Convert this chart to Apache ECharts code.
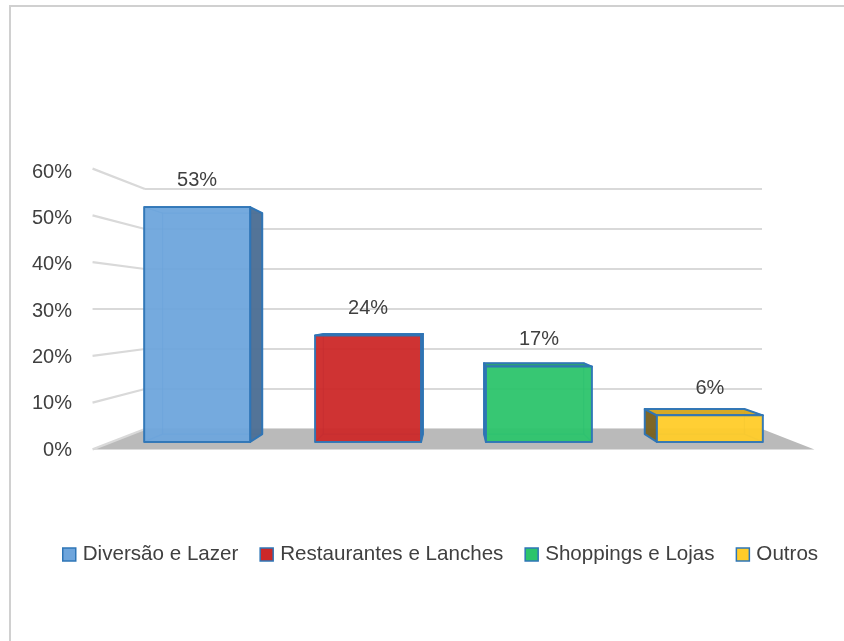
<!DOCTYPE html>
<html><head><meta charset="utf-8">
<script src="https://cdn.jsdelivr.net/npm/echarts@6/dist/echarts.min.js"></script>
<style>html,body{margin:0;padding:0;background:#fff}#c{width:844px;height:641px}</style>
</head><body><div id="c"></div>
<script>
// ---- data ----
const categories = ['Diversão e Lazer', 'Restaurantes e Lanches', 'Shoppings e Lojas', 'Outros'];
const values = [0.53, 0.24, 0.17, 0.06];
const yTicks = [0, 0.1, 0.2, 0.3, 0.4, 0.5, 0.6];

// ---- styles ----
const colors = ['#6ea5dc', '#cc2828', '#2cc46c', '#ffcc29'];
const sideColors = ['#4d7095', '#8a1c1c', '#1f8447', '#7a6220'];
const topColors = ['#5f93c6', '#b52323', '#25ab5c', '#d6a71e'];
const EDGE = '#2e75b6';
const TEXT = '#404040';
const FONT = 'Liberation Sans, Arial, sans-serif';

// perspective of the 3D look (scale factors relative to the back wall)
const S_FRONT_PLANE = 1.17, S_BAR_FRONT = 1.108, S_BAR_BACK = 1.042;
const EYE_VALUE = 0.3, BAR_RATIO = 0.62;

function proj(V, p, s) { return [V[0] + s * (p[0] - V[0]), V[1] + s * (p[1] - V[1])]; }
function eye(params, api) {
  const cs = params.coordSys;
  return [cs.x + cs.width / 2, api.coord([0, EYE_VALUE])[1]];
}
function pct(v) { return Math.round(v * 100) + '%'; }

function renderFloor(params, api) {
  const cs = params.coordSys, V = eye(params, api);
  const yB = api.coord([0, 0])[1];
  const bl = [cs.x, yB], br = [cs.x + cs.width, yB];
  return {
    type: 'polygon', silent: true,
    shape: { points: [bl, br, proj(V, br, S_FRONT_PLANE), proj(V, bl, S_FRONT_PLANE)] },
    style: { fill: '#bababa' }
  };
}
function renderWall(params, api) {
  const cs = params.coordSys, V = eye(params, api);
  const y = api.coord([0, api.value(1)])[1];
  const b = [cs.x, y], f = proj(V, b, S_FRONT_PLANE);
  return {
    type: 'line', silent: true,
    shape: { x1: b[0], y1: b[1], x2: f[0], y2: f[1] },
    style: { stroke: '#d9d9d9', lineWidth: 2.2 }
  };
}
function makeBarRenderer(k) {
  return function (params, api) {
    const V = eye(params, api);
    const i = api.value(0), v = api.value(1);
    const c = api.coord([i, 0]), t = api.coord([i, v]);
    const hw = api.size([1, 0])[0] * BAR_RATIO / 2;
    const x0 = c[0] - hw, x1 = c[0] + hw, yT = t[1], yB = c[1];
    const F = (x, y) => proj(V, [x, y], S_BAR_FRONT);
    const B = (x, y) => proj(V, [x, y], S_BAR_BACK);
    const inner = { stroke: 'rgba(46,117,182,0.6)', lineWidth: 1.3, fill: null };
    const ch = [];
    ch.push({ type: 'polygon', shape: { points: [B(x0, yT), B(x1, yT), B(x1, yB), B(x0, yB)] }, style: inner });
    [[x0, yT], [x1, yT], [x0, yB], [x1, yB]].forEach(p => {
      const a = F(p[0], p[1]), b = B(p[0], p[1]);
      ch.push({ type: 'line', shape: { x1: a[0], y1: a[1], x2: b[0], y2: b[1] }, style: inner });
    });
    const solid = (fill, op) => ({ fill: fill, opacity: op, stroke: EDGE, lineWidth: 2, lineJoin: 'round' });
    if (x1 < V[0]) ch.push({ type: 'polygon', shape: { points: [F(x1, yT), B(x1, yT), B(x1, yB), F(x1, yB)] }, style: solid(sideColors[k], 0.97) });
    if (x0 > V[0]) ch.push({ type: 'polygon', shape: { points: [F(x0, yT), B(x0, yT), B(x0, yB), F(x0, yB)] }, style: solid(sideColors[k], 0.97) });
    if (yT > V[1]) ch.push({ type: 'polygon', shape: { points: [F(x0, yT), F(x1, yT), B(x1, yT), B(x0, yT)] }, style: solid(topColors[k], 0.97) });
    const ft = F(x0, yT), fb = F(x1, yB);
    ch.push({ type: 'rect', shape: { x: ft[0], y: ft[1], width: fb[0] - ft[0], height: fb[1] - ft[1] }, style: solid(colors[k], 0.95) });
    ch.push({ type: 'text', style: { text: pct(v), x: (ft[0] + fb[0]) / 2, y: ft[1] - 27, align: 'center', verticalAlign: 'middle', fill: TEXT, font: '20px ' + FONT } });
    return { type: 'group', children: ch };
  };
}

const barSeries = categories.map((name, k) => ({
  type: 'custom', name: name, xAxisIndex: 0, yAxisIndex: 0, z: 3,
  itemStyle: { color: colors[k] },
  data: [[categories[k], values[k]]],
  renderItem: makeBarRenderer(k), clip: false
}));

const chart = echarts.init(document.getElementById('c'), null, { renderer: 'canvas' });
chart.setOption({
  backgroundColor: '#ffffff',
  animation: false,
  graphic: [{ type: 'rect', silent: true, z: -10, shape: { x: 10, y: 6, width: 900, height: 700 }, style: { fill: 'none', stroke: '#d0d0d0', lineWidth: 2 } }],
  grid: [
    { left: 145, right: 82, top: 189, bottom: 212 },
    { left: 92, width: 10, top: 172, bottom: 191 }
  ],
  xAxis: [
    { type: 'category', data: categories, gridIndex: 0, axisLine: { show: false }, axisTick: { show: false }, axisLabel: { show: false } },
    { type: 'category', data: categories, gridIndex: 1, show: false }
  ],
  yAxis: [
    { type: 'value', gridIndex: 0, min: 0, max: 0.6, interval: 0.1, axisLabel: { show: false }, axisLine: { show: false }, axisTick: { show: false },
      splitLine: { lineStyle: { color: '#d9d9d9', width: 2.2 } } },
    { type: 'value', gridIndex: 1, min: 0, max: 0.6, interval: 0.1, axisLine: { show: false }, axisTick: { show: false }, splitLine: { show: false },
      axisLabel: { formatter: pct, margin: 20, color: TEXT, fontSize: 20, fontFamily: FONT } }
  ],
  legend: {
    data: categories, left: 62, top: 544, padding: 0, icon: 'rect', itemWidth: 13, itemHeight: 13, itemGap: 21,
    itemStyle: { borderColor: EDGE, borderWidth: 1.5 },
    textStyle: { color: TEXT, fontSize: 20.6, fontFamily: FONT, padding: [0, 0, 0, 2] }
  },
  series: [
    { type: 'custom', name: '_floor', xAxisIndex: 0, yAxisIndex: 0, z: 1, silent: true, data: [[categories[0], 0]], renderItem: renderFloor, clip: false },
    { type: 'custom', name: '_wall', xAxisIndex: 0, yAxisIndex: 0, z: 1, silent: true, data: yTicks.map(t => [categories[0], t]), renderItem: renderWall, clip: false }
  ].concat(barSeries)
});
</script></body></html>
